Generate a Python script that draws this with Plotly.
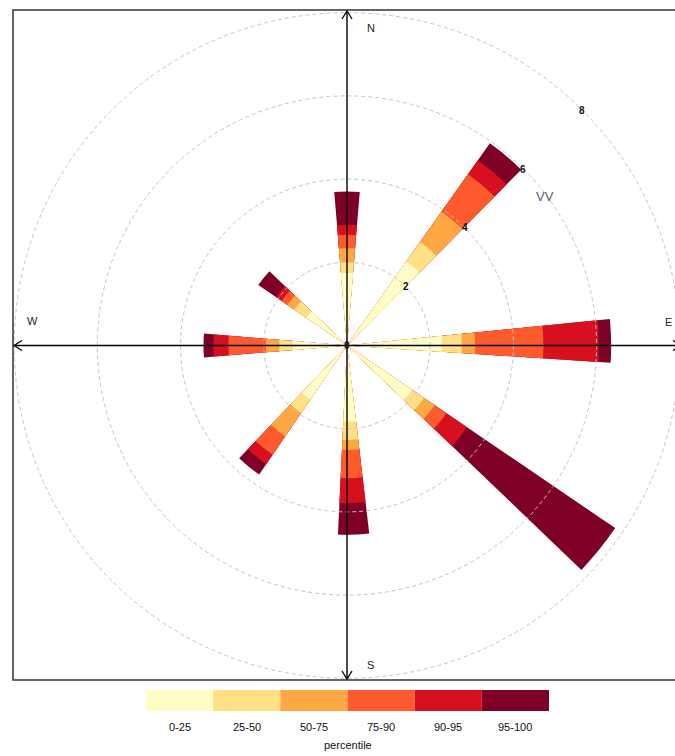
import plotly.graph_objects as go
import math

# ---- data ----
directions = [0, 40, 89, 129, 178, 219, 270, 309]
p25 = [1.74, 2.47, 2.28, 1.89, 1.83, 1.57, 1.30, 1.18]
p50 = [2.00, 3.05, 2.76, 2.24, 2.27, 1.96, 1.63, 1.53]
p75 = [2.34, 3.94, 3.08, 2.55, 2.51, 2.64, 1.95, 1.73]
p90 = [2.66, 5.04, 4.72, 2.89, 3.19, 3.18, 2.85, 1.90]
p95 = [2.90, 5.45, 6.05, 3.49, 3.79, 3.45, 3.21, 2.06]
p100 = [3.70, 5.95, 6.35, 7.80, 4.55, 3.75, 3.45, 2.58]

band_labels = ["0-25", "25-50", "50-75", "75-90", "90-95", "95-100"]
band_colors = ["#FFFDC6", "#FFE085", "#FDA843", "#FD5A2D", "#D7101F", "#7F0026"]
radial_ticks = [0, 2, 4, 6, 8]
compass = [("N", 0), ("E", 90), ("S", 180), ("W", 270)]
var_name = "VV"

# ---- geometry ----
W, H = 675, 756
CX, CY = 347.0, 345.5      # pixel centre of the rose
PXU = 41.6                  # pixels per radial unit
RPX = 327.0                 # polar disc radius in px
RMAX = RPX / PXU
FRAME = (13, 10, 682, 680)


def px(x):
    return x / W


def py(y):
    return 1 - y / H


def polar_px(r, bearing):
    a = math.radians(bearing)
    return CX + r * PXU * math.sin(a), CY - r * PXU * math.cos(a)


fig = go.Figure()

levels = [p25, p50, p75, p90, p95, p100]
for k in range(5, -1, -1):
    fig.add_trace(go.Barpolar(
        r=levels[k], theta=directions, width=[9.5] * len(directions),
        marker=dict(color=band_colors[k], line=dict(width=0)),
        name=band_labels[k], showlegend=False, hoverinfo="skip",
    ))

shapes = []
# dashed grid circles
for r in radial_ticks[1:]:
    shapes.append(dict(type="circle", xref="paper", yref="paper",
                       x0=px(CX - r * PXU), x1=px(CX + r * PXU),
                       y0=py(CY + r * PXU), y1=py(CY - r * PXU),
                       line=dict(color="#C4C4C4", width=1, dash="4px,3px"),
                       layer="above"))
# axes
x0f, y0f, x1f, y1f = FRAME
shapes.append(dict(type="line", xref="paper", yref="paper",
                   x0=px(CX), x1=px(CX), y0=py(y0f), y1=py(y1f),
                   line=dict(color="black", width=1.4), layer="above"))
shapes.append(dict(type="line", xref="paper", yref="paper",
                   x0=px(x0f), x1=px(x1f), y0=py(CY), y1=py(CY),
                   line=dict(color="black", width=1.4), layer="above"))


def arrow(tipx, tipy, dx, dy):
    # dx,dy: direction pointing back from tip
    ox, oy = -dy, dx
    p1 = (tipx + dx * 8 + ox * 5, tipy + dy * 8 + oy * 5)
    p2 = (tipx + dx * 8 - ox * 5, tipy + dy * 8 - oy * 5)
    path = "M %f,%f L %f,%f L %f,%f" % (px(p1[0]), py(p1[1]), px(tipx), py(tipy), px(p2[0]), py(p2[1]))
    return dict(type="path", xref="paper", yref="paper", path=path,
                line=dict(color="black", width=1.3), layer="above")


shapes.append(arrow(CX, y0f + 1, 0, 1))
shapes.append(arrow(CX, y1f - 1, 0, -1))
shapes.append(arrow(x0f + 1, CY, 1, 0))
shapes.append(arrow(x1f - 1, CY, -1, 0))
# frame
shapes.append(dict(type="rect", xref="paper", yref="paper",
                   x0=px(x0f), x1=px(x1f), y0=py(y1f), y1=py(y0f),
                   line=dict(color="#333333", width=1.5), layer="above"))

# legend key
LX0, LX1, LY0, LY1 = 146, 549, 690, 711
seg = (LX1 - LX0) / len(band_labels)
annotations = []
for i, (lab, col) in enumerate(zip(band_labels, band_colors)):
    shapes.append(dict(type="rect", xref="paper", yref="paper",
                       x0=px(LX0 + i * seg), x1=px(LX0 + (i + 1) * seg),
                       y0=py(LY1), y1=py(LY0), fillcolor=col,
                       line=dict(width=0)))
    annotations.append(dict(xref="paper", yref="paper", x=px(LX0 + (i + 0.5) * seg), y=py(727),
                            text=lab, showarrow=False, xanchor="center", yanchor="middle",
                            font=dict(family="Liberation Sans, Arial", size=11, color="#111")))
annotations.append(dict(xref="paper", yref="paper", x=px((LX0 + LX1) / 2), y=py(745),
                        text="percentile", showarrow=False, xanchor="center", yanchor="middle",
                        font=dict(family="Liberation Sans, Arial", size=11, color="#111")))

# radial tick labels along 45 degrees
for r in radial_ticks:
    x, y = polar_px(r, 45)
    annotations.append(dict(xref="paper", yref="paper", x=px(x), y=py(y), text="<b>%d</b>" % r,
                            showarrow=False, xanchor="center", yanchor="middle",
                            font=dict(family="Liberation Sans, Arial", size=10, color="#111")))

# compass labels
comp_pos = {"N": (371, 28), "E": (668, 322), "S": (371, 665), "W": (32, 321)}
for lab, b in compass:
    x, y = comp_pos[lab]
    annotations.append(dict(xref="paper", yref="paper", x=px(x), y=py(y), text=lab,
                            showarrow=False, xanchor="center", yanchor="middle",
                            font=dict(family="Liberation Sans, Arial", size=11, color="#222")))

vx, vy = polar_px(5.95, 53)
annotations.append(dict(xref="paper", yref="paper", x=px(vx), y=py(vy), text=var_name,
                        showarrow=False, xanchor="center", yanchor="middle",
                        font=dict(family="Liberation Sans, Arial", size=13, color="#56627A")))

fig.update_layout(
    width=W, height=H, margin=dict(l=0, r=0, t=0, b=0),
    paper_bgcolor="white", plot_bgcolor="white",
    polar=dict(
        domain=dict(x=[px(CX - RPX), px(CX + RPX)], y=[py(CY + RPX), py(CY - RPX)]),
        bgcolor="rgba(0,0,0,0)", barmode="overlay", hole=0,
        radialaxis=dict(range=[0, RMAX], visible=False, showgrid=False),
        angularaxis=dict(rotation=90, direction="clockwise", visible=False, showgrid=False),
    ),
    shapes=shapes, annotations=annotations, showlegend=False,
)

fig.write_html(
    "out.html",
    config={"displayModeBar": False},
    post_script="document.body.style.margin='0';document.body.style.overflow='hidden';",
)
